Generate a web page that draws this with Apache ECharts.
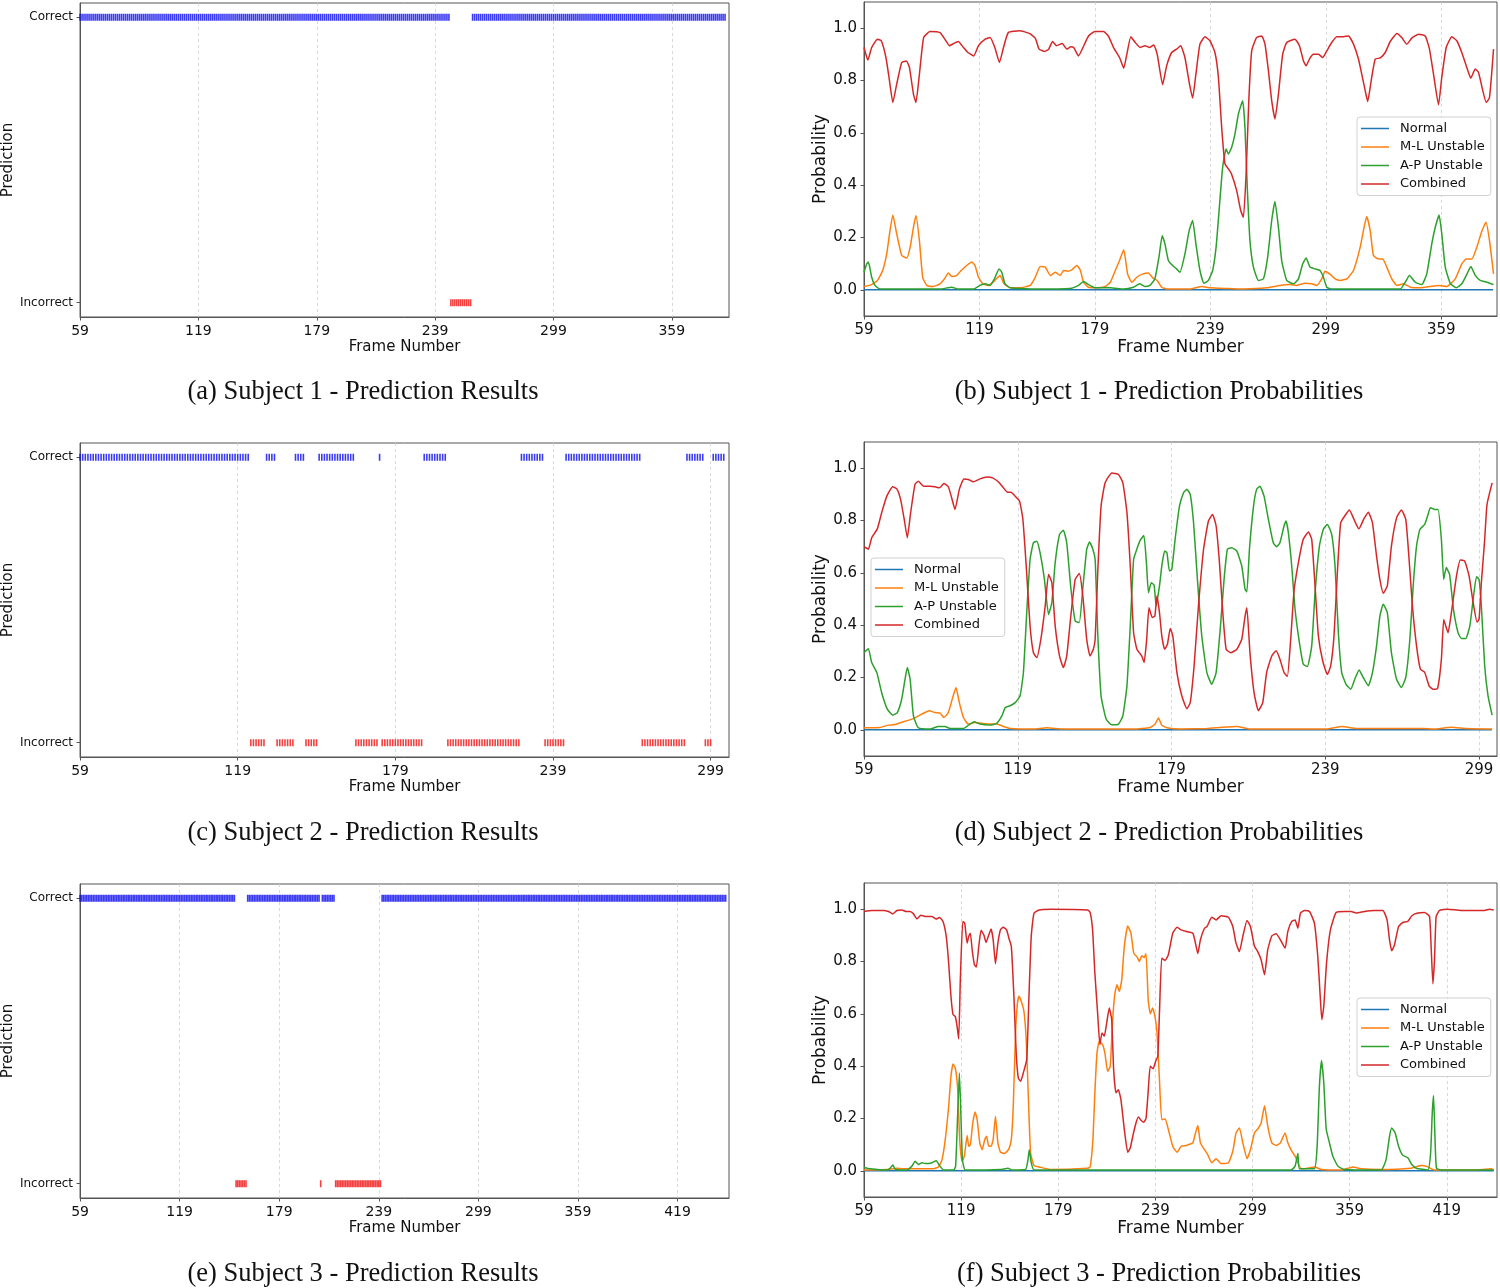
<!DOCTYPE html>
<html>
<head>
<meta charset="utf-8">
<script src="https://cdn.jsdelivr.net/npm/echarts@6/dist/echarts.min.js"></script>
<style>
html, body { margin: 0; padding: 0; background: #fff; }
#main { width: 1500px; height: 1288px; }
</style>
</head>
<body>
<div id="main"></div>
<script>
// frame ranges [start, end]
var aCorrect = [[59, 246], [258, 386]];
var aIncorrect = [[247, 257]];
var cCorrect = [[59, 123], [130, 133], [141, 144], [150, 163], [173, 173], [190, 198], [227, 235], [244, 272], [290, 296], [300, 304]];
var cIncorrect = [[124, 129], [134, 140], [145, 149], [164, 172], [174, 189], [199, 226], [236, 243], [273, 289], [297, 299]];
var eCorrect = [[59, 152], [160, 203], [205, 212], [241, 448]];
var eIncorrect = [[153, 159], [204, 204], [213, 240]];

// tick labels
var ticks1 = [59, 119, 179, 239, 299, 359];
var ticks2 = [59, 119, 179, 239, 299];
var ticks3 = [59, 119, 179, 239, 299, 359, 419];
var probTicks = [0, 0.2, 0.4, 0.6, 0.8, 1.0];

var seriesNames = ['Normal', 'M-L Unstable', 'A-P Unstable', 'Combined'];

// subject 1 probabilities [frame, p]
var bNormal = [[59, 0], [150, 0], [250, 0], [386, 0]];
var bMl = [[59,0.013],[63,0.02],[66,0.036],[68.7,0.074],[70.8,0.137],[72.5,0.226],[74,0.286],[76,0.214],[78.6,0.131],[81.2,0.122],[83,0.163],[84.7,0.239],[86,0.284],[87.8,0.188],[89.5,0.048],[91.6,0.017],[95,0.013],[98.5,0.023],[100.8,0.042],[102.9,0.064],[104.6,0.051],[107.2,0.055],[109.5,0.074],[112.4,0.093],[115,0.106],[116.7,0.093],[118.5,0.048],[120.7,0.023],[123.7,0.017],[127,0.036],[129.7,0.055],[131.8,0.023],[135,0.008],[140,0.008],[145.4,0.017],[148,0.048],[150.6,0.089],[153.2,0.087],[155.8,0.055],[158.4,0.067],[161,0.055],[162.7,0.074],[164.8,0.071],[167,0.076],[169.6,0.093],[171.4,0.076],[173.1,0.029],[175.7,0.01],[180,0.008],[184.4,0.013],[187,0.029],[189.6,0.074],[191.8,0.112],[194,0.153],[196,0.061],[198.2,0.029],[200.8,0.048],[203.4,0.059],[206.8,0.064],[209.2,0.045],[211.4,0.036],[213.7,0.01],[216.3,0.003],[228.4,0.003],[234.5,0.013],[238.8,0.008],[247.5,0.005],[254.4,0.003],[259.6,0.004],[268.3,0.008],[275.2,0.017],[280.4,0.02],[283.9,0.017],[288.2,0.025],[291.7,0.023],[294.3,0.017],[296.9,0.042],[298.6,0.071],[301.3,0.059],[303.9,0.042],[306.5,0.036],[310,0.042],[313.4,0.074],[316.9,0.163],[318.9,0.239],[320.3,0.28],[322.1,0.226],[323.8,0.131],[326.4,0.118],[328.6,0.118],[330.7,0.087],[333.3,0.042],[336,0.017],[339.4,0.023],[342.9,0.01],[348.1,0.008],[353.3,0.013],[357.6,0.017],[362,0.013],[366.3,0.042],[369.7,0.099],[372,0.118],[374.9,0.118],[377.5,0.163],[380.2,0.226],[382.3,0.258],[384.1,0.188],[386.2,0.061]];
var bAp = [[59,0.067],[60.4,0.099],[61.3,0.106],[63,0.048],[64.7,0.017],[67.3,0.003],[77.7,0.003],[98.5,0.003],[104.6,0.01],[108,0.003],[116,0.003],[119.3,0.017],[122,0.023],[124.5,0.017],[126.8,0.042],[129.2,0.08],[130.6,0.067],[132.3,0.023],[135,0.008],[147,0.003],[166,0.005],[170.5,0.017],[173.1,0.032],[175.7,0.02],[179,0.008],[187,0.008],[194,0.003],[199,0.01],[202.3,0.023],[205,0.013],[207.6,0.017],[210.2,0.042],[212.3,0.125],[214,0.207],[215.4,0.176],[217.2,0.112],[219.4,0.093],[221.5,0.08],[223.2,0.067],[225.8,0.137],[228,0.226],[229.8,0.265],[231.5,0.176],[233.6,0.074],[235.7,0.025],[238,0.036],[240.2,0.074],[242,0.163],[243.7,0.316],[245.4,0.468],[247.2,0.538],[248.4,0.519],[250.1,0.545],[251.8,0.595],[253.6,0.672],[255.8,0.723],[257,0.621],[258.2,0.392],[259.6,0.188],[261.4,0.087],[264,0.036],[266.6,0.042],[268.8,0.125],[270.9,0.265],[272.6,0.338],[274.4,0.239],[276.1,0.112],[278.7,0.036],[282.2,0.023],[284.8,0.042],[287,0.099],[288.8,0.122],[290.8,0.087],[293.4,0.08],[296,0.074],[297.8,0.048],[299.5,0.01],[302.1,0.003],[337.7,0.003],[340.3,0.029],[342.5,0.055],[345.5,0.029],[348.9,0.02],[351.5,0.061],[354.1,0.176],[355.9,0.239],[357.9,0.286],[359.3,0.214],[361.1,0.087],[363.7,0.025],[366.8,0.008],[369.7,0.023],[372.3,0.059],[374.4,0.089],[376.7,0.055],[379.3,0.036],[382.8,0.029],[386.2,0.02]];
var bComb = [[59,0.926],[61,0.878],[63,0.926],[66,0.958],[68,0.952],[70.4,0.888],[72,0.812],[74,0.716],[76,0.786],[78.6,0.869],[81,0.875],[82.6,0.85],[84.7,0.748],[86,0.716],[87.8,0.824],[90,0.964],[93.3,0.987],[98.5,0.983],[101,0.958],[103.4,0.933],[105.5,0.941],[108,0.949],[110.7,0.926],[113,0.907],[116,0.894],[118.5,0.933],[122,0.958],[124.5,0.964],[127,0.926],[129.4,0.869],[131.5,0.926],[134,0.983],[140,0.99],[145,0.98],[148,0.962],[150,0.92],[153,0.911],[155,0.92],[157,0.949],[159,0.933],[162,0.941],[164.4,0.92],[166.5,0.929],[168,0.926],[170.5,0.894],[172.8,0.926],[175.7,0.97],[179,0.987],[183.5,0.987],[186,0.97],[188.7,0.926],[191.8,0.888],[194,0.847],[195.6,0.9],[197.7,0.967],[200,0.945],[202.5,0.926],[205,0.933],[207.5,0.926],[209.6,0.936],[211.4,0.9],[214.2,0.784],[216.3,0.856],[218.9,0.907],[221.5,0.92],[223.6,0.933],[225.8,0.888],[228,0.793],[229.8,0.733],[231.5,0.824],[233.6,0.939],[236.2,0.967],[238.8,0.952],[241.4,0.907],[243.2,0.812],[244.9,0.621],[246.6,0.481],[248.4,0.462],[250,0.443],[252.7,0.379],[254.8,0.303],[256.2,0.277],[257.6,0.443],[259,0.723],[260.5,0.913],[263,0.964],[265.7,0.97],[267.4,0.939],[269.2,0.837],[270.9,0.723],[272.6,0.653],[274.4,0.748],[276.6,0.9],[278.7,0.945],[283,0.958],[285.3,0.933],[287.4,0.875],[288.8,0.856],[290.5,0.882],[292.6,0.9],[295.2,0.9],[297.4,0.888],[299.5,0.913],[302.1,0.945],[304.7,0.967],[308.2,0.967],[310.8,0.97],[313.4,0.939],[316,0.882],[317.7,0.824],[319.5,0.761],[320.8,0.72],[322.6,0.799],[324.7,0.882],[327.3,0.886],[329.9,0.907],[332.5,0.949],[336,0.98],[338.5,0.964],[341.1,0.939],[343.7,0.962],[347.2,0.977],[350.7,0.97],[352.9,0.92],[355,0.824],[357.6,0.707],[359.3,0.812],[361.6,0.926],[364.5,0.967],[367.1,0.952],[369.7,0.907],[372.3,0.85],[374.4,0.809],[376.7,0.844],[378.4,0.831],[380.2,0.774],[382.4,0.716],[384.1,0.735],[386.2,0.92]];

// subject 2 probabilities
var dNormal = [[59, 0], [150, 0], [250, 0], [304, 0]];
var dMl = [[59,0.008],[65.2,0.009],[68.5,0.018],[71.1,0.02],[74.4,0.031],[78.3,0.043],[81.5,0.06],[84.5,0.073],[86.7,0.066],[88.7,0.064],[90.2,0.047],[91.9,0.066],[93.6,0.123],[94.9,0.162],[96.2,0.104],[97.8,0.047],[99.7,0.022],[102.3,0.028],[104.9,0.025],[108.2,0.022],[110.8,0.022],[113.4,0.013],[116,0.005],[125,0.003],[130.3,0.008],[136.8,0.003],[164.2,0.003],[170.7,0.009],[172.6,0.022],[173.9,0.045],[175.2,0.018],[177.2,0.008],[182.4,0.003],[192.8,0.005],[198,0.009],[204.5,0.013],[209.6,0.003],[239.5,0.003],[245.4,0.013],[251.2,0.005],[277.2,0.005],[281.1,0.003],[288.2,0.01],[294,0.005],[304.1,0.003]];
var dAp = [[59,0.295],[60.7,0.31],[62,0.257],[64,0.219],[65.9,0.142],[68.1,0.079],[70.2,0.056],[72,0.066],[73.7,0.117],[75,0.193],[75.9,0.238],[77,0.193],[78.3,0.053],[80.2,0.008],[84.8,0.003],[88,0.013],[90.6,0.013],[92.6,0.005],[97.8,0.005],[100.4,0.022],[102,0.031],[104.3,0.022],[108.2,0.018],[110.8,0.025],[112.8,0.053],[114.1,0.085],[116,0.092],[118,0.104],[119.9,0.13],[121.2,0.219],[122.5,0.448],[123.8,0.651],[125.1,0.715],[126.4,0.721],[127.7,0.677],[129.4,0.575],[131,0.441],[132.3,0.486],[133.6,0.639],[135.3,0.747],[136.8,0.763],[138.1,0.715],[139.7,0.543],[141.4,0.416],[143,0.41],[144.4,0.543],[145.9,0.69],[147,0.718],[148.3,0.69],[149.2,0.651],[150.2,0.371],[151.5,0.13],[153.5,0.041],[155.7,0.019],[158.3,0.022],[160,0.053],[161.6,0.168],[162.9,0.397],[164.2,0.651],[165.5,0.692],[166.8,0.725],[168.2,0.743],[169.2,0.639],[170,0.524],[171.1,0.562],[172.2,0.553],[173,0.473],[174.3,0.55],[175.2,0.626],[176.3,0.683],[177.2,0.677],[178.2,0.607],[179.1,0.613],[180.4,0.728],[182.1,0.855],[183.7,0.906],[185,0.919],[186.3,0.9],[187.6,0.791],[189.1,0.575],[190.8,0.359],[192.8,0.219],[194.7,0.174],[196.4,0.219],[198,0.384],[199.5,0.575],[200.8,0.69],[202.5,0.696],[204.5,0.683],[206.4,0.626],[207.7,0.537],[208.4,0.527],[209.4,0.69],[211,0.855],[212.2,0.919],[213.5,0.931],[215.1,0.893],[216.8,0.804],[218.7,0.715],[220,0.7],[221.3,0.715],[222.9,0.779],[223.7,0.798],[224.6,0.753],[225.9,0.626],[227.2,0.461],[228.9,0.333],[230.4,0.251],[232,0.242],[233.7,0.321],[235,0.524],[236.7,0.702],[238.2,0.766],[239.8,0.785],[241.5,0.747],[242.8,0.626],[244.1,0.371],[245.4,0.219],[247.1,0.174],[248.9,0.155],[250.6,0.196],[252.2,0.229],[253.8,0.2],[255.8,0.168],[257.4,0.219],[259,0.321],[260.3,0.435],[261.6,0.48],[263.2,0.448],[264.8,0.295],[266.8,0.193],[268.7,0.162],[270.4,0.2],[272,0.346],[273.3,0.55],[274.6,0.702],[275.9,0.766],[277.8,0.785],[279.1,0.823],[280,0.849],[281.7,0.842],[283,0.842],[284.3,0.728],[285.2,0.575],[286.2,0.62],[287.5,0.594],[289,0.461],[290.8,0.371],[292.1,0.349],[293.8,0.349],[295.4,0.397],[296.7,0.499],[298,0.585],[299,0.575],[299.9,0.473],[301.2,0.244],[302.5,0.13],[304.1,0.056]];
var dComb = [[59,0.7],[60.7,0.69],[62,0.734],[64.2,0.768],[65.9,0.83],[67.9,0.893],[70.2,0.929],[71.8,0.921],[73.3,0.88],[74.7,0.804],[75.9,0.734],[77.2,0.83],[78.9,0.938],[80.2,0.95],[82.2,0.931],[84.8,0.931],[86.7,0.929],[88.4,0.925],[90.2,0.941],[91.9,0.929],[93.2,0.887],[94.5,0.842],[96.2,0.919],[98,0.959],[99.7,0.957],[101.7,0.948],[104.3,0.959],[106.9,0.966],[109.2,0.963],[111.5,0.947],[113.4,0.925],[115,0.908],[116.3,0.908],[118,0.893],[119.7,0.874],[121,0.804],[122.3,0.626],[123.8,0.397],[125.1,0.295],[126.4,0.276],[128,0.346],[129.7,0.473],[131,0.594],[132.3,0.562],[133.6,0.397],[135.3,0.282],[136.8,0.238],[138.1,0.282],[139.7,0.435],[141.4,0.575],[143,0.597],[144.4,0.511],[145.9,0.346],[147.2,0.282],[148.5,0.308],[149.2,0.346],[150.2,0.6],[151.5,0.855],[153.1,0.944],[155.7,0.982],[158.3,0.976],[160,0.944],[161.6,0.83],[162.9,0.626],[164.2,0.371],[165.5,0.308],[167.4,0.282],[168.3,0.257],[169.3,0.346],[170.2,0.467],[171.5,0.429],[172.5,0.435],[173.3,0.511],[174.3,0.448],[175.2,0.359],[176.3,0.308],[177.4,0.327],[178.5,0.387],[179.5,0.359],[181.1,0.219],[183,0.13],[185,0.081],[186.3,0.104],[187.8,0.244],[189.5,0.473],[191.5,0.69],[193.4,0.798],[195,0.823],[196.4,0.779],[197.7,0.639],[199,0.448],[200.3,0.308],[202.1,0.295],[204.5,0.308],[206.4,0.346],[207.7,0.435],[208.4,0.467],[209.6,0.295],[211.2,0.142],[212.9,0.073],[214.6,0.104],[216.1,0.219],[218.1,0.282],[219.8,0.302],[221.3,0.27],[222.9,0.219],[224.2,0.204],[225.5,0.346],[226.8,0.531],[228.5,0.639],[230.4,0.728],[232.4,0.756],[233.7,0.728],[235,0.55],[236.3,0.359],[238,0.263],[239.8,0.212],[241.1,0.244],[242.4,0.359],[243.7,0.6],[245,0.791],[246.7,0.819],[248.4,0.84],[250.2,0.804],[252.1,0.768],[254.1,0.807],[255.8,0.832],[257.4,0.791],[259,0.664],[260.3,0.575],[261.6,0.522],[263.2,0.55],[264.8,0.702],[266.8,0.81],[268.7,0.84],[270.4,0.804],[271.7,0.651],[273,0.473],[274.6,0.321],[276.1,0.232],[277.8,0.219],[279.5,0.168],[281.1,0.155],[282.8,0.158],[284.3,0.27],[285.2,0.422],[286,0.397],[286.9,0.371],[288.2,0.448],[290.2,0.588],[291.7,0.649],[293.4,0.645],[295.1,0.588],[296.7,0.486],[298.2,0.412],[299,0.422],[299.9,0.562],[301.2,0.728],[302.1,0.861],[304.1,0.944]];

// subject 3 probabilities
var fNormal = [[59, 0], [150, 0], [300, 0], [448, 0]];
var fMl = [[59,0.003],[73,0.005],[79.3,0.01],[83.4,0.008],[93.7,0.008],[102,0.008],[105,0.015],[107.2,0.043],[109.2,0.12],[111.3,0.247],[112.7,0.361],[114,0.408],[115.4,0.393],[116.9,0.31],[118.1,0.12],[119.6,0.037],[121,0.056],[122.7,0.135],[123.7,0.094],[124.7,0.1],[126.2,0.183],[127.6,0.225],[128.9,0.196],[130.5,0.107],[132,0.081],[133.6,0.12],[134.7,0.132],[136.1,0.094],[137.5,0.094],[138.8,0.12],[140.2,0.209],[141.7,0.107],[143.3,0.071],[145.8,0.066],[148.5,0.084],[150,0.12],[151.2,0.247],[152.6,0.527],[153.7,0.635],[154.7,0.667],[156.1,0.648],[157.8,0.609],[159.2,0.501],[160.5,0.285],[161.9,0.069],[164,0.02],[167.1,0.015],[174.3,0.005],[197.1,0.01],[198.7,0.015],[200.4,0.12],[201.6,0.298],[202.9,0.45],[204.3,0.495],[206.4,0.482],[207.8,0.45],[209.5,0.38],[211.1,0.4],[212.6,0.578],[214,0.679],[215.3,0.711],[216.7,0.686],[218.2,0.73],[219.8,0.858],[221.9,0.936],[223.9,0.908],[225.6,0.832],[227.7,0.817],[229.1,0.8],[230.6,0.822],[232,0.815],[233.2,0.83],[234.6,0.65],[235.9,0.6],[237.2,0.622],[238.6,0.595],[240,0.527],[241.5,0.349],[242.9,0.196],[245,0.198],[247,0.158],[249.7,0.094],[252.4,0.071],[254.9,0.094],[258,0.097],[262.1,0.107],[263.5,0.139],[265.2,0.173],[266.8,0.107],[269.3,0.081],[271.3,0.062],[273.8,0.031],[276.5,0.046],[279.6,0.028],[284.1,0.031],[286.8,0.075],[288.8,0.145],[290.9,0.164],[293,0.107],[295.6,0.046],[297.7,0.081],[300.2,0.145],[302.2,0.16],[304.3,0.183],[306.4,0.249],[308.4,0.17],[310.9,0.107],[313.6,0.097],[316.2,0.107],[319.1,0.145],[320.8,0.107],[323.2,0.075],[325.3,0.056],[327,0.031],[329,0.008],[333.1,0.01],[337.2,0.015],[341.4,0.005],[353.7,0.003],[361,0.015],[366.1,0.008],[378.4,0.005],[397,0.01],[403.2,0.02],[407.3,0.015],[411.4,0.003],[436.1,0.003],[446.4,0.008],[448,0.003]];
var fAp = [[59,0.013],[62.7,0.008],[73,0.003],[75.1,0.01],[76.8,0.022],[78.4,0.005],[85.5,0.003],[88.6,0.018],[90.6,0.037],[92.7,0.024],[94.8,0.031],[96.8,0.028],[98.9,0.028],[101,0.031],[103.6,0.039],[105.7,0.02],[108.2,0.003],[114.4,0.003],[115.6,0.018],[116.9,0.221],[117.9,0.374],[118.7,0.247],[119.8,0.043],[121.6,0.003],[143.3,0.005],[147.9,0.01],[150.6,0.003],[158.8,0.005],[160.3,0.043],[161.1,0.081],[162.3,0.031],[164,0.003],[322.8,0.003],[325.3,0.018],[327,0.066],[328,0.008],[337.2,0.008],[338.9,0.094],[340.3,0.323],[341.6,0.422],[343,0.336],[344.5,0.16],[346.5,0.107],[348.6,0.056],[351.7,0.018],[355.8,0.005],[378.4,0.003],[381.5,0.043],[383.6,0.132],[385,0.164],[387.1,0.145],[389.2,0.094],[391.8,0.059],[394.9,0.05],[397.4,0.024],[400.1,0.01],[407.3,0.003],[409,0.069],[410,0.221],[410.8,0.288],[411.6,0.145],[412.6,0.01],[415.5,0.003],[448,0.003]];
var fComb = [[59,0.991],[63.8,0.995],[71,0.995],[74.1,0.991],[76.8,0.982],[79.3,0.995],[82.4,0.997],[85,0.991],[87.5,0.991],[89.6,0.982],[91.7,0.963],[94.1,0.977],[96.8,0.972],[101,0.972],[103.6,0.962],[105.7,0.968],[107.8,0.953],[109.8,0.896],[111.3,0.794],[112.7,0.667],[114,0.597],[115.4,0.59],[116.5,0.552],[117.5,0.504],[118.5,0.73],[120,0.953],[121.2,0.947],[122.7,0.87],[123.7,0.896],[124.7,0.908],[125.8,0.845],[127.2,0.788],[128.4,0.779],[129.9,0.858],[131.3,0.919],[133,0.902],[134.4,0.873],[136.1,0.902],[137.5,0.924],[138.8,0.883],[140.2,0.791],[141.7,0.87],[143.3,0.921],[145,0.931],[147.1,0.921],[148.5,0.889],[150,0.858],[151.6,0.667],[153,0.45],[154.3,0.355],[155.7,0.342],[157.4,0.374],[159.5,0.425],[160.9,0.667],[162.3,0.896],[164,0.985],[167.1,0.997],[174.3,1.0],[197.1,0.997],[198.7,0.987],[200.2,0.921],[201.6,0.756],[203.3,0.603],[204.7,0.482],[206,0.527],[207.4,0.514],[208.9,0.565],[210.5,0.622],[212,0.578],[213.2,0.387],[214.6,0.298],[216.1,0.31],[217.7,0.272],[219.8,0.158],[221.9,0.071],[223.5,0.088],[225,0.132],[227,0.183],[228.5,0.206],[230.1,0.193],[231.7,0.186],[233.2,0.2],[234.5,0.3],[235.8,0.4],[237.6,0.39],[239.2,0.42],[240.5,0.438],[241.5,0.603],[242.9,0.813],[245,0.804],[247,0.826],[249.7,0.908],[252.4,0.931],[254.9,0.921],[258,0.915],[262.1,0.908],[263.5,0.877],[265.2,0.83],[266.8,0.883],[269.3,0.927],[270.9,0.934],[273.8,0.969],[276.5,0.959],[279.6,0.975],[284.1,0.969],[286.8,0.934],[288.8,0.87],[290.9,0.838],[293,0.896],[295.6,0.957],[297.7,0.934],[300.2,0.858],[302.2,0.838],[304.3,0.807],[306.4,0.749],[308.4,0.845],[310.9,0.898],[313.6,0.906],[316.2,0.883],[319.1,0.851],[320.8,0.915],[323.2,0.953],[325.3,0.959],[327,0.927],[328.6,0.985],[331.1,0.995],[334.2,0.991],[337.2,0.947],[339.3,0.819],[340.8,0.667],[341.8,0.578],[343,0.628],[344.7,0.794],[347.1,0.921],[350.6,0.987],[355.8,0.991],[359.9,0.991],[363,0.985],[368.1,0.991],[374.3,0.995],[379.5,0.995],[382.1,0.959],[383.6,0.883],[385,0.841],[386.7,0.864],[389.2,0.934],[391.8,0.949],[394.9,0.953],[397.4,0.975],[401.1,0.985],[405.2,0.987],[408.3,0.972],[409.3,0.858],[410.4,0.715],[411.4,0.807],[412.4,0.972],[414.5,0.995],[419.6,1.0],[427.9,0.995],[436.1,0.995],[442.3,0.995],[445.4,1.0],[448,0.997]];

var captions = [
  '(a) Subject 1 - Prediction Results', '(b) Subject 1 - Prediction Probabilities',
  '(c) Subject 2 - Prediction Results', '(d) Subject 2 - Prediction Probabilities',
  '(e) Subject 3 - Prediction Results', '(f) Subject 3 - Prediction Probabilities'
];

var COLORS = ['#1f77b4', '#ff7f0e', '#2ca02c', '#d62728'];
var SPINE = '#555';
var FONT = 'DejaVu Sans';
// flat line sample for the legend (matplotlib style)
var LINE_ICON = 'path://M0,0 L28,0 L28,1.5 L0,1.5 Z';

function framesOf(ranges, yv) {
  var out = [];
  ranges.forEach(function (r) {
    for (var f = r[0]; f <= r[1]; f++) out.push([f, yv]);
  });
  return out;
}

// one row per subject: left = results, right = probabilities
var rows = [
  { top: 3, xmax: 388, ticks: ticks1, correct: aCorrect, incorrect: aIncorrect,
    probs: [bNormal, bMl, bAp, bComb], legend: { left: 1357, top: 117 } },
  { top: 443, xmax: 306, ticks: ticks2, correct: cCorrect, incorrect: cIncorrect,
    probs: [dNormal, dMl, dAp, dComb], legend: { left: 871, top: 558 } },
  { top: 884, xmax: 450, ticks: ticks3, correct: eCorrect, incorrect: eIncorrect,
    probs: [fNormal, fMl, fAp, fComb], legend: { left: 1357, top: 998 } }
];

var grids = [], xAxes = [], yAxes = [], series = [], legends = [], graphics = [];

function xAxisCfg(gi, max, ticks, small) {
  return {
    type: 'value', gridIndex: gi, min: 59, max: max,
    name: 'Frame Number', nameLocation: 'middle', nameGap: 23,
    nameTextStyle: { fontSize: small ? 15 : 17, color: '#111', fontFamily: FONT },
    axisLine: { show: true, onZero: false, lineStyle: { color: SPINE, width: 1 } },
    axisTick: { show: true, length: 3.5, customValues: ticks, lineStyle: { color: SPINE } },
    axisLabel: { customValues: ticks, margin: 7, fontSize: small ? 14 : 15, color: '#111', fontFamily: FONT },
    splitLine: { show: true, lineStyle: { color: '#cfcfcf', type: [3, 3], width: 0.8 } }
  };
}

rows.forEach(function (row, i) {
  var gl = i * 2, gr = i * 2 + 1;
  grids.push({ left: 79, top: row.top, width: 650, height: 314, show: true, borderColor: SPINE, borderWidth: 1 });
  grids.push({ left: 864, top: row.top - 1, width: 633, height: 314, show: true, borderColor: SPINE, borderWidth: 1 });

  xAxes.push(xAxisCfg(gl, row.xmax, row.ticks, true));
  xAxes.push(xAxisCfg(gr, row.xmax, row.ticks, false));

  yAxes.push({
    type: 'value', gridIndex: gl, min: -0.05, max: 1.05,
    name: 'Prediction', nameLocation: 'middle', nameGap: 58,
    nameTextStyle: { fontSize: 15, color: '#111', fontFamily: FONT },
    axisLine: { show: true, lineStyle: { color: SPINE, width: 1 } },
    axisTick: { show: true, length: 3.5, customValues: [0, 1], lineStyle: { color: SPINE } },
    axisLabel: { customValues: [0, 1], margin: 7, fontSize: 12, color: '#111', fontFamily: FONT,
      formatter: function (v) { return v > 0.5 ? 'Correct' : 'Incorrect'; } },
    splitLine: { show: false }
  });
  yAxes.push({
    type: 'value', gridIndex: gr, min: -0.1, max: 1.1,
    name: 'Probability', nameLocation: 'middle', nameGap: 25,
    nameTextStyle: { fontSize: 17, color: '#111', fontFamily: FONT },
    axisLine: { show: true, lineStyle: { color: SPINE, width: 1 } },
    axisTick: { show: true, length: 3.5, customValues: probTicks, lineStyle: { color: SPINE } },
    axisLabel: { customValues: probTicks, margin: 7, fontSize: 15, color: '#111', fontFamily: FONT,
      formatter: function (v) { return v.toFixed(1); } },
    splitLine: { show: false }
  });

  series.push({
    type: 'scatter', name: 'Correct', xAxisIndex: gl, yAxisIndex: gl,
    data: framesOf(row.correct, 1), symbol: 'rect', symbolSize: [1.6, 7],
    itemStyle: { color: '#0a0aee' }, silent: true, animation: false
  });
  series.push({
    type: 'scatter', name: 'Incorrect', xAxisIndex: gl, yAxisIndex: gl,
    data: framesOf(row.incorrect, 0), symbol: 'rect', symbolSize: [1.6, 7],
    itemStyle: { color: '#f01010' }, silent: true, animation: false
  });

  row.probs.forEach(function (d, k) {
    series.push({
      type: 'line', name: seriesNames[k], xAxisIndex: gr, yAxisIndex: gr,
      data: d, showSymbol: false, symbol: 'none', smooth: 0.15,
      lineStyle: { color: COLORS[k], width: 1.5 }, itemStyle: { color: COLORS[k] },
      z: 2 + k, animation: false
    });
  });

  legends.push({
    data: seriesNames.map(function (n) { return { name: n, icon: LINE_ICON }; }),
    orient: 'vertical', left: row.legend.left, top: row.legend.top,
    itemWidth: 28, itemHeight: 14, itemGap: 5.5, padding: [5, 6, 5, 4],
    symbolKeepAspect: true,
    backgroundColor: 'rgba(255,255,255,0.85)', borderColor: '#d0d0d0', borderWidth: 1, borderRadius: 3,
    textStyle: { fontSize: 13, color: '#111', fontFamily: FONT, padding: [0, 0, 0, 6] },
    selectedMode: false
  });
});

var capY = [392, 833, 1274];
captions.forEach(function (t, i) {
  graphics.push({
    type: 'text', x: (i % 2 === 0) ? 363 : 1159, y: capY[Math.floor(i / 2)],
    style: { text: t, fill: '#111', font: '26.5px "Liberation Serif"', textAlign: 'center', textVerticalAlign: 'middle' }
  });
});

var chart = echarts.init(document.getElementById('main'));
chart.setOption({
  backgroundColor: '#fff',
  animation: false,
  grid: grids,
  xAxis: xAxes,
  yAxis: yAxes,
  legend: legends,
  series: series,
  graphic: graphics
});
</script>
</body>
</html>
